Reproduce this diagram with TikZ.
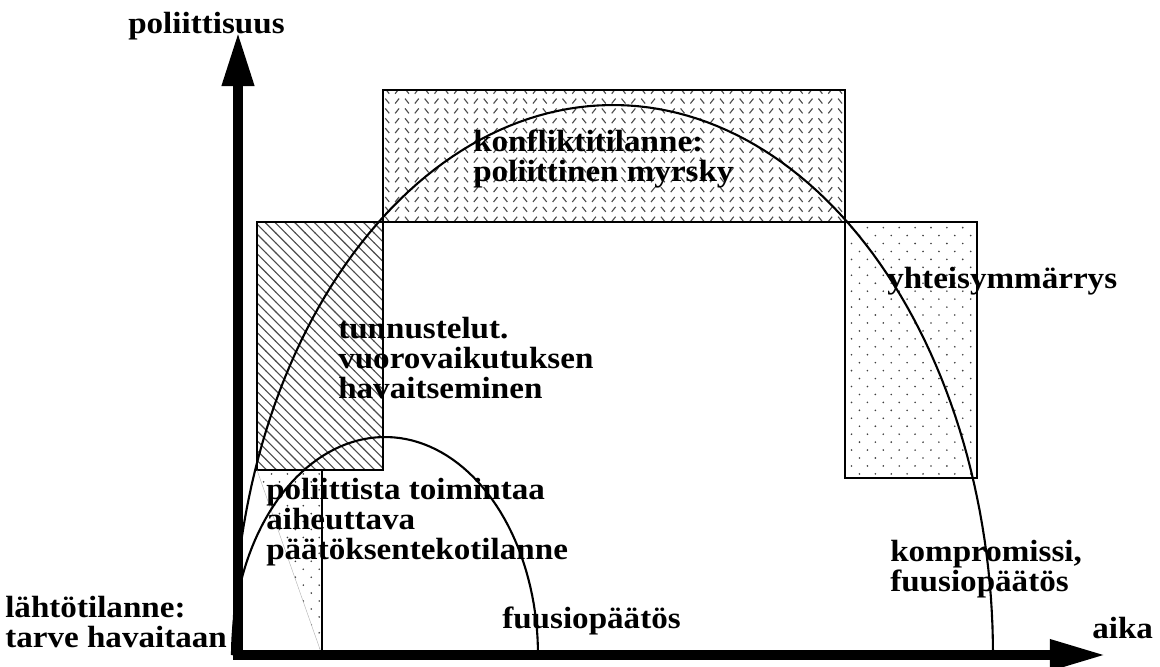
\documentclass[tikz,border=0pt]{standalone}
\usepackage{fontspec}
\setmainfont{Liberation Serif}[FakeStretch=1.08]
\usetikzlibrary{patterns,arrows.meta}
% fill patterns of the phase boxes
\pgfdeclarepatternformonly{hatchlines}{\pgfqpoint{-1pt}{-1pt}}{\pgfqpoint{8pt}{8pt}}{\pgfqpoint{7pt}{7pt}}{%
  \pgfsetlinewidth{0.8pt}%
  \pgfpathmoveto{\pgfqpoint{-0.2pt}{7.2pt}}\pgfpathlineto{\pgfqpoint{7.2pt}{-0.2pt}}\pgfusepath{stroke}}
\pgfdeclarepatternformonly{finedots}{\pgfqpoint{-1pt}{-1pt}}{\pgfqpoint{12.3pt}{12.3pt}}{\pgfqpoint{11.3pt}{11.3pt}}{%
  \pgfpathcircle{\pgfqpoint{1pt}{1pt}}{0.65pt}%
  \pgfpathcircle{\pgfqpoint{6.65pt}{6.65pt}}{0.65pt}\pgfusepath{fill}}
\pgfdeclarepatternformonly{ticks}{\pgfqpoint{-1pt}{-1pt}}{\pgfqpoint{15pt}{8pt}}{\pgfqpoint{14pt}{7pt}}{%
  \pgfsetlinewidth{0.8pt}%
  \pgfpathmoveto{\pgfqpoint{1pt}{1pt}}\pgfpathlineto{\pgfqpoint{3.8pt}{4.5pt}}%
  \pgfpathmoveto{\pgfqpoint{8pt}{4.5pt}}\pgfpathlineto{\pgfqpoint{10.8pt}{1pt}}\pgfusepath{stroke}}
\begin{document}
\begin{tikzpicture}[x=0.025cm,y=-0.025cm,
  phase/.style={draw,line width=1.7pt},
  curve/.style={line width=1.5pt},
  axis/.style={line width=0.25cm,line join=miter,
    {Triangle[length=1.35cm,width=0.75cm]}-{Triangle[length=1.4cm,width=0.72cm]}},
  lab/.style={font=\bfseries\fontsize{21.8pt}{21.3pt}\selectfont,align=left,anchor=base west,inner sep=0}]
\useasboundingbox (0,0) rectangle (1160,666);
% boxes
\draw[phase,pattern=hatchlines,pattern color=black!70] (257,222) rectangle (383,470);
\draw[phase,pattern=ticks,pattern color=black!70] (383,90) rectangle (845,222);
\draw[phase,pattern=finedots,pattern color=black!75] (845,222) rectangle (977,478);
\fill[pattern=finedots,pattern color=black!75] (257,470) -- (322,470) -- (322,655) -- cycle;
\draw[gray!60,line width=0.3pt] (257,470) -- (322,655);
\draw[line width=1.4pt] (322,470) -- (322,655);
% curves
\draw[curve] plot[domain=180:360,samples=120] ({613+380*cos(\x)},{655+550*sin(\x)});
\draw[curve] plot[domain=180:360,samples=80] ({385+153*cos(\x)},{655+218*sin(\x)});
% axes
\coordinate (ytip) at (238,32);
\coordinate (origin) at (238,655);
\coordinate (xtip) at (1106,655);
\draw[axis] (ytip) -- (origin) -- (xtip);
% labels (anchored at the last line)
\node[lab] (ylab) at (128,33) {poliittisuus};
\node[lab] (xlab) at (1092,638) {aika};
\node[lab] (start) at (5,647) {lähtötilanne:\\tarve havaitaan};
\node[lab] (trigger) at (266,559) {poliittista toimintaa\\aiheuttava\\päätöksentekotilanne};
\node[lab] (probe) at (338,398) {tunnustelut.\\vuorovaikutuksen\\havaitseminen};
\node[lab] (storm) at (473,181) {konfliktitilanne:\\poliittinen myrsky};
\node[lab] (consensus) at (887,288) {yhteisymmärrys};
\node[lab] (fusion) at (502,628) {fuusiopäätös};
\node[lab] (compromise) at (890,591) {kompromissi,\\fuusiopäätös};
\end{tikzpicture}
\end{document}
